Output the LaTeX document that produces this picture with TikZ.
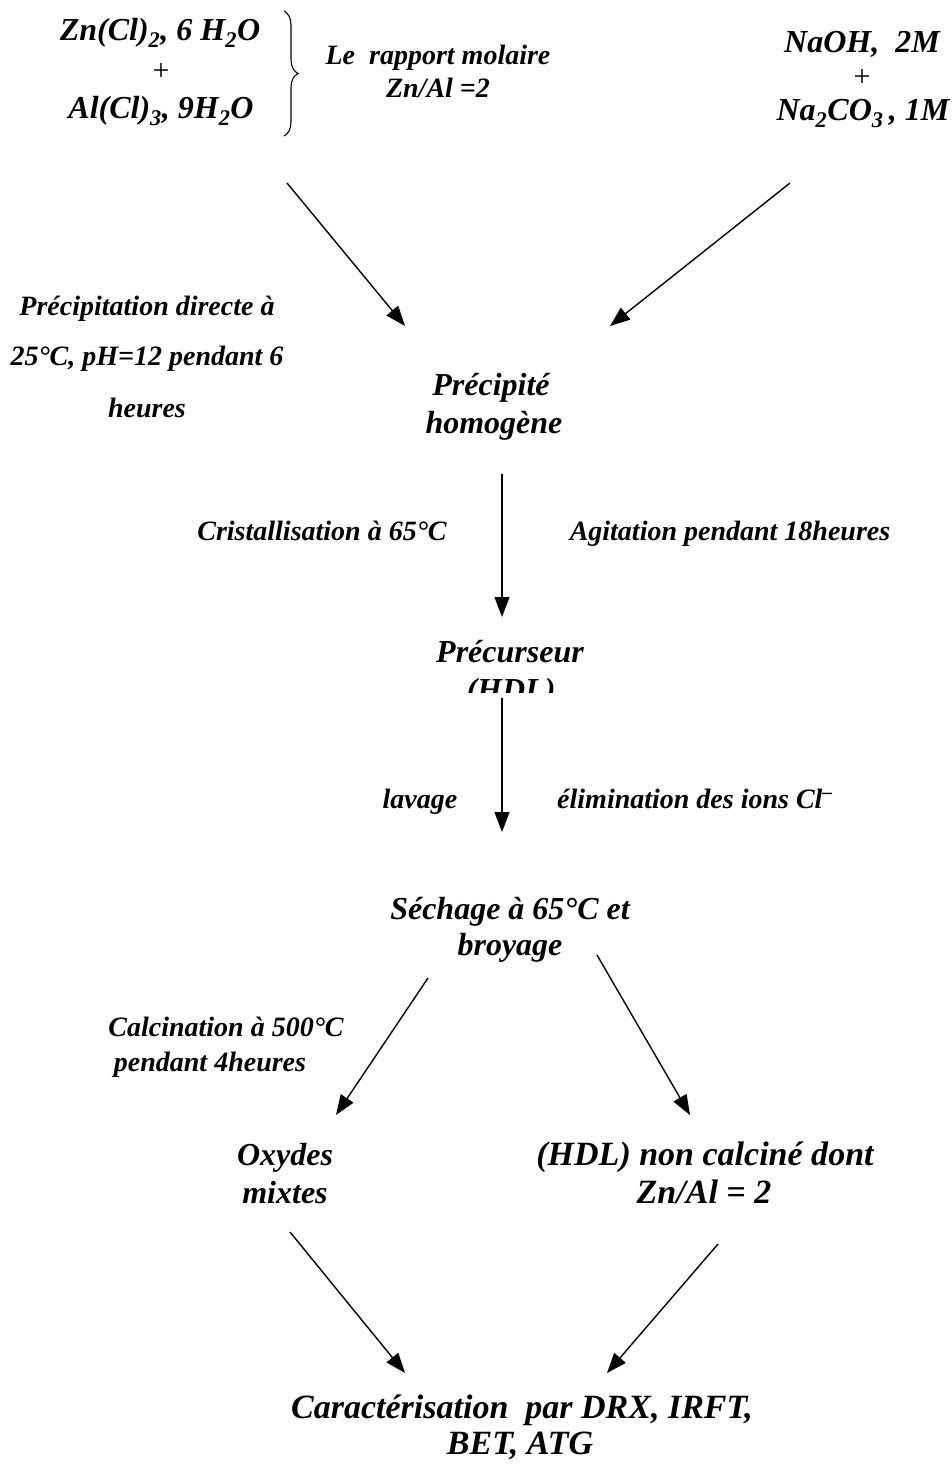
\documentclass[tikz,border=0pt]{standalone}
\usepackage{fontspec}
\setmainfont{Liberation Serif}
\usetikzlibrary{arrows.meta,decorations.pathreplacing}
\begin{document}
\begin{tikzpicture}[x=1pt,y=-1pt,
  lbl/.style={font=\fontsize{28}{32}\selectfont\bfseries\itshape, inner sep=0pt, anchor=base},
  big/.style={font=\fontsize{32}{36}\selectfont\bfseries\itshape, inner sep=0pt, anchor=base},
  bigger/.style={font=\fontsize{34}{38}\selectfont\bfseries\itshape, inner sep=0pt, anchor=base},
  plusmark/.style={font=\fontsize{30}{34}\selectfont, inner sep=0pt, anchor=base},
  arr/.style={line width=1.4pt, -{Triangle[length=20pt,width=15pt]}},
  bracestyle/.style={line width=1.1pt, decorate, decoration={brace, amplitude=14pt}}]
\useasboundingbox (0,0) rectangle (952,1466);
% top left
\node[big] (zn) at (160,41) {Zn(Cl)\textsubscript{2}, 6 H\textsubscript{2}O};
\node[plusmark] (plusA) at (161,81) {+};
\node[big] (al) at (161,119) {Al(Cl)\textsubscript{3}, 9H\textsubscript{2}O};
\coordinate (brtop) at (284,11);
\coordinate (brbot) at (284,136);
\draw[bracestyle] (brtop) -- (brbot);
\node[lbl] (rap) at (438,65) {Le~~rapport molaire};
\node[lbl] (ratio) at (438,98) {Zn/Al =2};
% top right
\node[big] (naoh) at (862,53) {NaOH,~~2M};
\node[plusmark] (plusB) at (862,87) {+};
\node[big] (naco) at (863,121) {Na\textsubscript{2}CO\textsubscript{3}\,, 1M};
% precipitation
\node[lbl] (pr1) at (147,315) {Précipitation directe à};
\node[lbl] (pr2) at (147,365) {25°C, pH=12 pendant 6};
\node[lbl] (pr3) at (147,417) {heures};
\node[big] (pp1) at (491,395) {Précipité};
\node[big] (pp2) at (494,433) {homogène};
\coordinate (a1s) at (287,183); \coordinate (a1e) at (405,326);
\coordinate (a2s) at (790,183); \coordinate (a2e) at (610,326);
\draw[arr] (a1s) -- (a1e);
\draw[arr] (a2s) -- (a2e);
% crystallisation
\coordinate (a3s) at (502,474); \coordinate (a3e) at (502,617);
\draw[arr] (a3s) -- (a3e);
\node[lbl] (cri) at (322,540) {Cristallisation à 65°C};
\node[lbl] (agi) at (730,540) {Agitation pendant 18heures};
\node[big] (pc1) at (510,662) {Précurseur};
\begin{scope}
\clip (380,630) rectangle (620,692);
\node[big] (pc2) at (511,700) {(HDL)};
\end{scope}
% washing
\coordinate (a4s) at (502,698); \coordinate (a4e) at (502,832);
\draw[arr] (a4s) -- (a4e);
\node[lbl] (lav) at (420,808) {lavage};
\node[lbl] (eli) at (695,808) {élimination des ions Cl\textsuperscript{–}};
\node[big] (se1) at (510,919) {Séchage à 65°C et};
\node[big] (se2) at (510,955) {broyage};
% calcination
\coordinate (a5s) at (428,978); \coordinate (a5e) at (336,1115);
\coordinate (a6s) at (597,955); \coordinate (a6e) at (690,1115);
\draw[arr] (a5s) -- (a5e);
\draw[arr] (a6s) -- (a6e);
\node[lbl] (ca1) at (226,1036) {Calcination à 500°C};
\node[lbl] (ca2) at (210,1071) {pendant 4heures};
\node[big] (ox1) at (285,1165) {Oxydes};
\node[big] (ox2) at (285,1203) {mixtes};
\node[bigger] (hd1) at (705,1165) {(HDL) non calciné dont};
\node[bigger] (hd2) at (704,1203) {Zn/Al = 2};
% characterisation
\coordinate (a7s) at (290,1232); \coordinate (a7e) at (405,1373);
\coordinate (a8s) at (718,1244); \coordinate (a8e) at (607,1373);
\draw[arr] (a7s) -- (a7e);
\draw[arr] (a8s) -- (a8e);
\node[bigger] (ch1) at (522,1418) {Caractérisation~~par DRX, IRFT,};
\node[bigger] (ch2) at (520,1454) {BET, ATG};
\end{tikzpicture}
\end{document}
